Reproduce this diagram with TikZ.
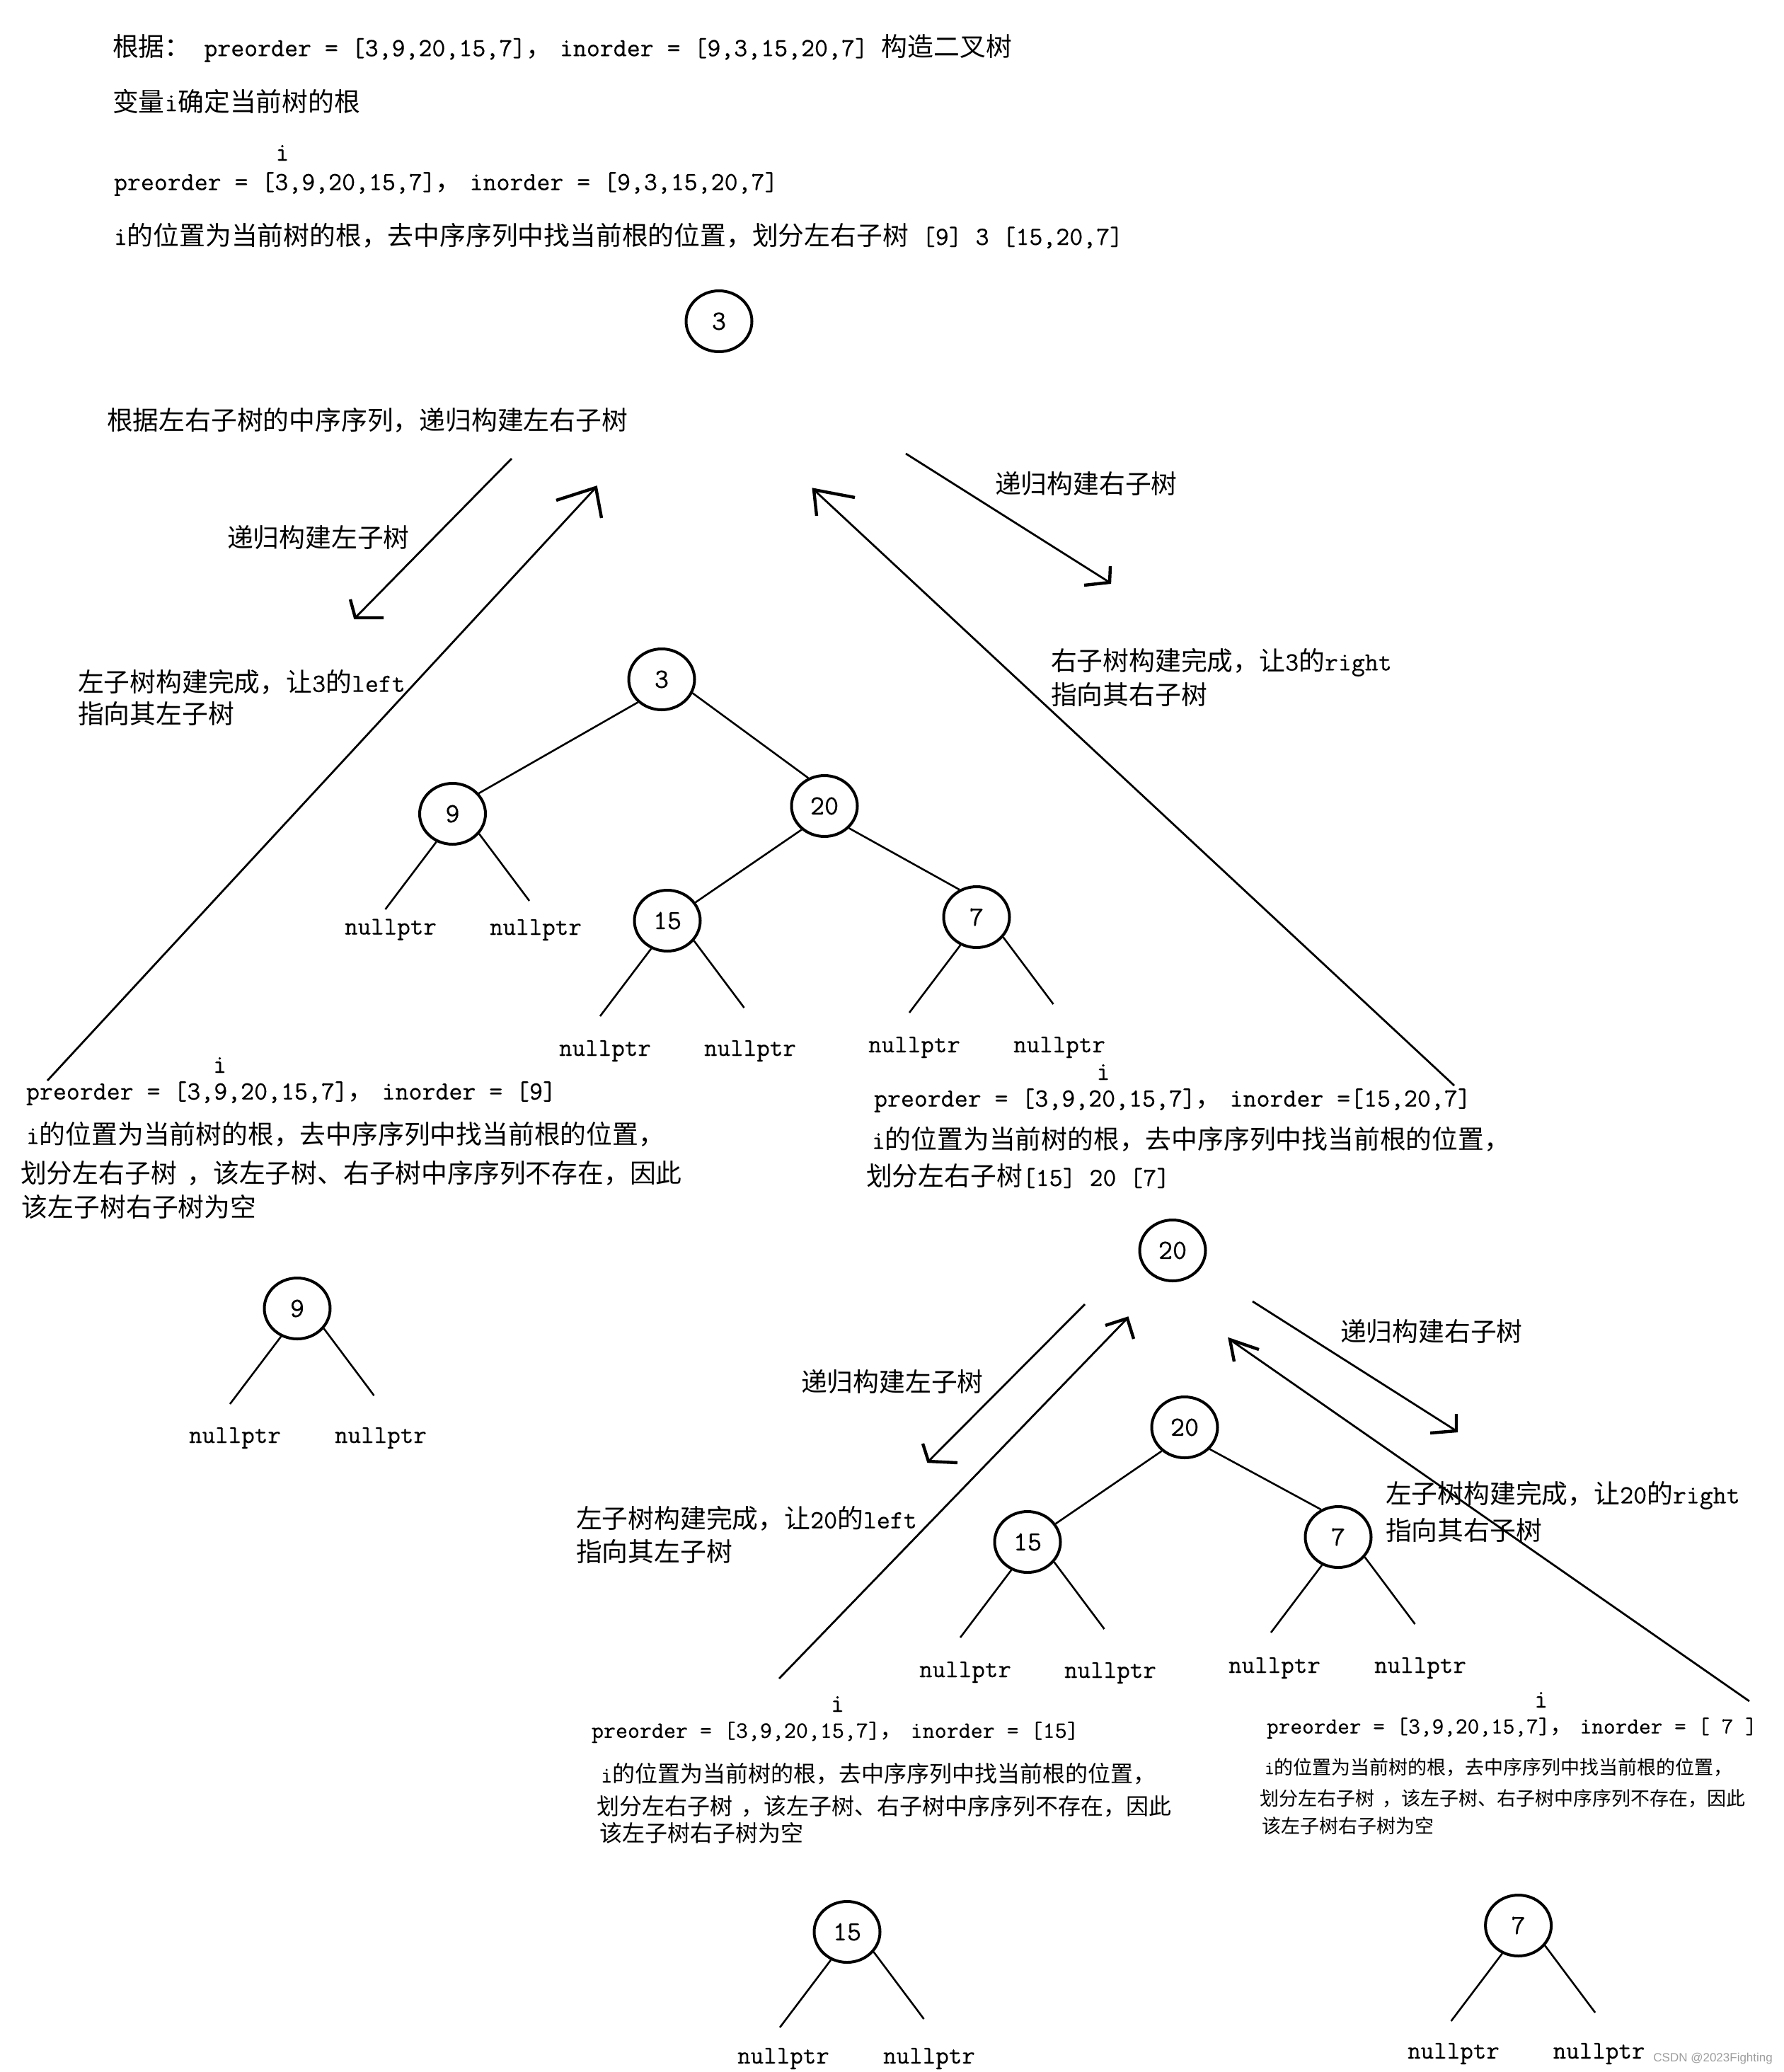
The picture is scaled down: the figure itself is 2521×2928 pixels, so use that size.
\documentclass[tikz,border=0pt]{standalone}
\usepackage{fontspec}
\setmonofont{Latin Modern Mono}[FakeBold=0.4]
\newfontfamily\cjkfont{Noto Sans CJK SC}
\newfontfamily\wmfont{Liberation Sans}
\usetikzlibrary{shapes.geometric}
\newcommand\zh[1]{{\cjkfont #1}}
\newcommand\zc{\zh{，}\kern0.3em}
% subtree leaves: #1 node, label offsets (#2,#3) and (#4,#5)
\newcommand\kids[5]{%
  \path (#1) ++(-95,135) coordinate (#1L);
  \path (#1) ++(108.5,123) coordinate (#1R);
  \draw[edge] (#1.240) -- (#1L);
  \draw[edge] (#1.323) -- (#1R);
  \path (#1) ++(#2,#3) node[nul] (#1nl) {nullptr};
  \path (#1) ++(#4,#5) node[nul] (#1nr) {nullptr};
}
\tikzset{
  base/.style={inner sep=0pt, outer sep=0pt, font=\ttfamily\fontsize{18.4}{22}\selectfont},
  txt/.style={base, anchor=west},
  txtB/.style={inner sep=0pt, outer sep=0pt, anchor=west, font=\ttfamily\fontsize{16.5}{20}\selectfont},
  txtC/.style={inner sep=0pt, outer sep=0pt, anchor=west, font=\ttfamily\fontsize{16}{19}\selectfont},
  txtD/.style={inner sep=0pt, outer sep=0pt, anchor=west, font=\ttfamily\fontsize{13.5}{16}\selectfont},
  tnode/.style={ellipse, draw, line width=2pt, minimum width=46.5pt, minimum height=43pt,
    inner sep=0pt, font=\ttfamily\fontsize{19.5}{22}\selectfont},
  edge/.style={line width=1.3pt},
  arr/.style={line width=1.4pt},
  barb/.style={line width=2.2pt},
  nul/.style={inner sep=0pt, outer sep=0pt, font=\ttfamily\fontsize{18}{21}\selectfont},
}
\begin{document}
\begin{tikzpicture}[x=0.5pt,y=-0.5pt]
\useasboundingbox (0,0) rectangle (2521,2928);
\fill[white] (0,0) rectangle (2521,2928);

% ---------- header ----------
\node[txt] (t1) at (159,68) {\zh{根据：} preorder = [3,9,20,15,7]\zc inorder = [9,3,15,20,7] \zh{构造二叉树}};
\node[txt] (t2) at (159,143) {\zh{变量}i\zh{确定当前树的根}};
\node[base] (i1) at (399,216) {i};
\node[txt] (t4) at (161,260) {preorder = [3,9,20,15,7]\zc inorder = [9,3,15,20,7]};
\node[txt] (t5) at (161,333) {i\zh{的位置为当前树的根，去中序序列中找当前根的位置，划分左右子树} [9] 3 [15,20,7]};
\node[tnode] (r3) at (1016,454) {3};
\node[txt] (t6) at (151,594) {\zh{根据左右子树的中序序列，递归构建左右子树}};

% ---------- top-level arrows ----------
\coordinate (a1s) at (723,648);  \coordinate (a1t) at (502,873);
\draw[arr] (a1s) -- (a1t);
\draw[barb] (a1t) ++(-7,-26) -- (a1t) -- ++(40,0);

\coordinate (a2s) at (67,1527);  \coordinate (a2t) at (842,689);
\draw[arr] (a2s) -- (a2t);
\draw[barb] (a2t) ++(-56,18) -- (a2t) -- ++(8,43);

\coordinate (a3s) at (2055,1534); \coordinate (a3t) at (1150,692);
\draw[arr] (a3s) -- (a3t);
\draw[barb] (a3t) ++(58,11) -- (a3t) -- ++(4,37);

\coordinate (a4s) at (1280,641); \coordinate (a4t) at (1568,823);
\draw[arr] (a4s) -- (a4t);
\draw[barb] (a4t) ++(1,-23) -- (a4t) -- ++(-36,4);

\node[txt] (l1) at (321,760) {\zh{递归构建左子树}};
\node[txt] (l2) at (1406,684) {\zh{递归构建右子树}};
\node[txt] (t7) at (110,964) {\zh{左子树构建完成，让}3\zh{的}left};
\node[txt] (t8) at (110,1008) {\zh{指向其左子树}};
\node[txt] (t9) at (1485,936) {\zh{右子树构建完成，让}3\zh{的}right};
\node[txt] (t10) at (1485,981) {\zh{指向其右子树}};

% ---------- middle tree ----------
\node[tnode] (m3) at (935,960) {3};
\node[tnode] (m9) at (639.5,1150) {9};
\node[tnode] (m20) at (1165,1139) {20};
\node[tnode] (m15) at (943,1301) {15};
\node[tnode] (m7) at (1380,1296) {7};
\draw[edge] (m3.224) -- (m9.38);
\draw[edge] (m3.336) -- (m20.120);
\draw[edge] (m20.226) -- (m15.33);
\draw[edge] (m20.318) -- (m7.122);
\kids{m9}{-87.5}{163.5}{117.5}{164}
\kids{m15}{-88}{184}{117}{184}
\kids{m7}{-88}{184}{117}{184}

% ---------- middle-left text ----------
\node[base] (i2) at (310.6,1505) {i};
\node[txt] (t11) at (37,1545) {preorder = [3,9,20,15,7]\zc inorder = [9]};
\node[txt] (t12) at (37,1603) {i\zh{的位置为当前树的根，去中序序列中找当前根的位置，}};
\node[txt] (t13) at (29,1658) {\zh{划分左右子树}\kern0.4em\zh{，该左子树、右子树中序序列不存在，因此}};
\node[txt] (t14) at (31,1705) {\zh{该左子树右子树为空}};

% ---------- middle-right text ----------
\node[base] (i3) at (1559,1515) {i};
\node[txt] (t15) at (1235,1555) {preorder = [3,9,20,15,7]\zc inorder =[15,20,7]};
\node[txt] (t16) at (1232,1610) {i\zh{的位置为当前树的根，去中序序列中找当前根的位置，}};
\node[txt] (t17) at (1224,1662) {\zh{划分左右子树}[15] 20 [7]};

% ---------- single node 9 ----------
\node[tnode] (s9) at (420,1849) {9};
\kids{s9}{-88}{183}{118}{183}

% ---------- second level ----------
\node[tnode] (c20) at (1657,1767) {20};

\coordinate (a5s) at (1533,1843); \coordinate (a5t) at (1312,2065);
\draw[arr] (a5s) -- (a5t);
\draw[barb] (a5t) ++(-8,-25) -- (a5t) -- ++(41,2);

\coordinate (a6s) at (1101,2372); \coordinate (a6t) at (1593,1863);
\draw[arr] (a6s) -- (a6t);
\draw[barb] (a6t) ++(-31,10) -- (a6t) -- ++(9,29);

\coordinate (a7s) at (2472,2404); \coordinate (a7t) at (1738,1893);
\draw[arr] (a7s) -- (a7t);
\draw[barb] (a7t) ++(41,14) -- (a7t) -- ++(6,31);

\coordinate (a8s) at (1770,1839); \coordinate (a8t) at (2058,2022);
\draw[arr] (a8s) -- (a8t);
\draw[barb] (a8t) ++(0,-24) -- (a8t) -- ++(-37,3);

\node[txt] (l3) at (1132,1953) {\zh{递归构建左子树}};
\node[txt] (l4) at (1894,1882) {\zh{递归构建右子树}};
\node[txt] (t18) at (814,2146) {\zh{左子树构建完成，让}20\zh{的}left};
\node[txt] (t19) at (814,2192) {\zh{指向其左子树}};
\node[txt] (t20) at (1958,2113) {\zh{左子树构建完成，让}20\zh{的}right};
\node[txt] (t21) at (1958,2162) {\zh{指向其右子树}};

\node[tnode] (n20) at (1674,2017) {20};
\node[tnode] (n15) at (1452,2179) {15};
\node[tnode] (n7) at (1891,2172) {7};
\draw[edge] (n20.226) -- (n15.33);
\draw[edge] (n20.319) -- (n7.122);
\kids{n15}{-88}{184}{117}{185}
\kids{n7}{-90}{185}{116}{185}

% ---------- bottom-left text ----------
\node[base] (i4) at (1183.5,2408) {i};
\node[txtB] (t22) at (836,2448) {preorder = [3,9,20,15,7]\zc inorder = [15]};
\node[txtC] (t23) at (849,2507) {i\zh{的位置为当前树的根，去中序序列中找当前根的位置，}};
\node[txtC] (t24) at (843,2553) {\zh{划分左右子树}\kern0.4em\zh{，该左子树、右子树中序序列不存在，因此}};
\node[txtC] (t25) at (847,2590) {\zh{该左子树右子树为空}};

% ---------- bottom-right text ----------
\node[base] (i5) at (2177.7,2402) {i};
\node[txtB, font=\ttfamily\fontsize{16.2}{20}\selectfont] (t26) at (1790,2442) {preorder = [3,9,20,15,7]\zc inorder = [ 7 ]};
\node[txtD] (t27) at (1787,2497) {i\zh{的位置为当前树的根，去中序序列中找当前根的位置，}};
\node[txtD] (t28) at (1780.5,2542) {\zh{划分左右子树}\kern0.4em\zh{，该左子树、右子树中序序列不存在，因此}};
\node[txtD] (t29) at (1783,2580) {\zh{该左子树右子树为空}};

% ---------- bottom single nodes ----------
\node[tnode] (b15) at (1197,2730) {15};
\kids{b15}{-90}{179}{116}{179}
\node[tnode] (b7) at (2145.6,2721) {7};
\kids{b7}{-91.6}{181}{114}{181}

\node[inner sep=0pt, anchor=west, text=black!38, font=\wmfont\fontsize{8.5}{10}\selectfont] (wm) at (2336,2909) {CSDN @2023Fighting};
\end{tikzpicture}
\end{document}
